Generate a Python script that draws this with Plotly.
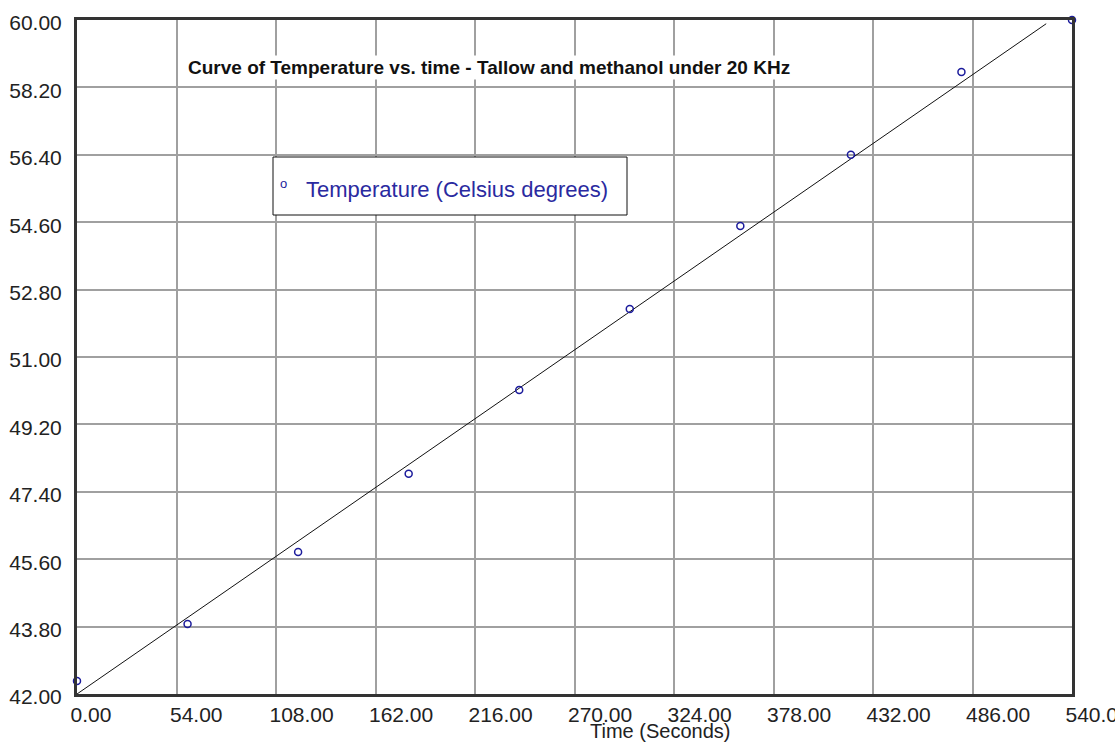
import plotly.graph_objects as go

# Data
time_s = [0, 60, 120, 180, 240, 300, 360, 420, 480, 540]
temperature_c = [42.35, 43.87, 45.79, 47.88, 50.12, 52.28, 54.50, 56.40, 58.61, 60.00]
fit_time = [0, 526]
fit_temp = [42.0, 59.9]

x_ticks = [0, 54, 108, 162, 216, 270, 324, 378, 432, 486, 540]
y_ticks = [42.0, 43.8, 45.6, 47.4, 49.2, 51.0, 52.8, 54.6, 56.4, 58.2, 60.0]

FONT = "Liberation Sans, Arial, sans-serif"
NARROW = "Liberation Sans Narrow, Arial Narrow, Liberation Sans, sans-serif"
BLUE = "#1c1c9c"

fig = go.Figure()
fig.add_trace(go.Scatter(
    x=fit_time, y=fit_temp, mode="lines",
    line=dict(color="#111111", width=1), showlegend=False, hoverinfo="skip",
))
fig.add_trace(go.Scatter(
    x=time_s, y=temperature_c, mode="markers", name="Temperature (Celsius degrees)",
    marker=dict(symbol="circle-open", size=7, color=BLUE, line=dict(width=1.5, color=BLUE)),
    showlegend=False, cliponaxis=False,
))

L, R, T, B = 77, 1072, 20, 694
W, H = R - L, B - T
def px(x): return (x - L) / W
def py(y): return (B - y) / H

fig.update_layout(
    width=1115, height=748, autosize=False,
    margin=dict(l=L, r=1115 - R, t=T, b=748 - B, autoexpand=False),
    paper_bgcolor="white", plot_bgcolor="white",
    font=dict(family=FONT, size=21, color="#222222"),
    xaxis=dict(
        range=[0, 540], tickvals=x_ticks, ticktext=[f"{v:.2f}" for v in x_ticks],
        showgrid=True, gridcolor="#a0a0a0", gridwidth=1.5, zeroline=False,
        showline=True, linecolor="#333333", linewidth=3, mirror=True,
        ticks="", ticklabelposition="outside right", ticklabelshift=-8,
        ticklabeloverflow="allow", automargin=False,
        tickfont=dict(family=FONT, size=21, color="#222222"),
    ),
    yaxis=dict(
        range=[42, 60], tickvals=y_ticks, ticktext=[f"{v:.2f}" for v in y_ticks],
        showgrid=True, gridcolor="#a0a0a0", gridwidth=1.5, zeroline=False,
        showline=True, linecolor="#333333", linewidth=3, mirror=True,
        ticks="", ticklabelshift=3, ticklabelstandoff=8,
        ticklabeloverflow="allow", automargin=False,
        tickfont=dict(family=FONT, size=21, color="#222222"),
    ),
    shapes=[dict(
        type="rect", xref="paper", yref="paper",
        x0=px(273), x1=px(627), y0=py(215), y1=py(157),
        line=dict(color="#111111", width=1), fillcolor="white", layer="above",
    )],
    annotations=[
        dict(text="<b>Curve of Temperature vs. time - Tallow and methanol under 20 KHz</b>",
             xref="paper", yref="paper", x=px(489), y=py(67), xanchor="center", yanchor="middle",
             showarrow=False, bgcolor="white",
             font=dict(family=NARROW, size=19, color="#111111")),
        dict(text="o", xref="paper", yref="paper", x=px(283), y=py(184),
             xanchor="center", yanchor="middle", showarrow=False,
             font=dict(family=FONT, size=13, color=BLUE)),
        dict(text="Temperature (Celsius degrees)", xref="paper", yref="paper",
             x=px(304), y=py(189), xanchor="left", yanchor="middle", showarrow=False,
             font=dict(family=FONT, size=22, color="#2a2aa0")),
        dict(text="Time (Seconds)", xref="paper", yref="paper",
             x=px(660), y=py(731), xanchor="center", yanchor="middle", showarrow=False,
             font=dict(family=FONT, size=20, color="#222222")),
    ],
)

fig.write_html("out.html", config={"displayModeBar": False},
               post_script="document.body.style.margin='0';document.body.style.overflow='hidden';")
